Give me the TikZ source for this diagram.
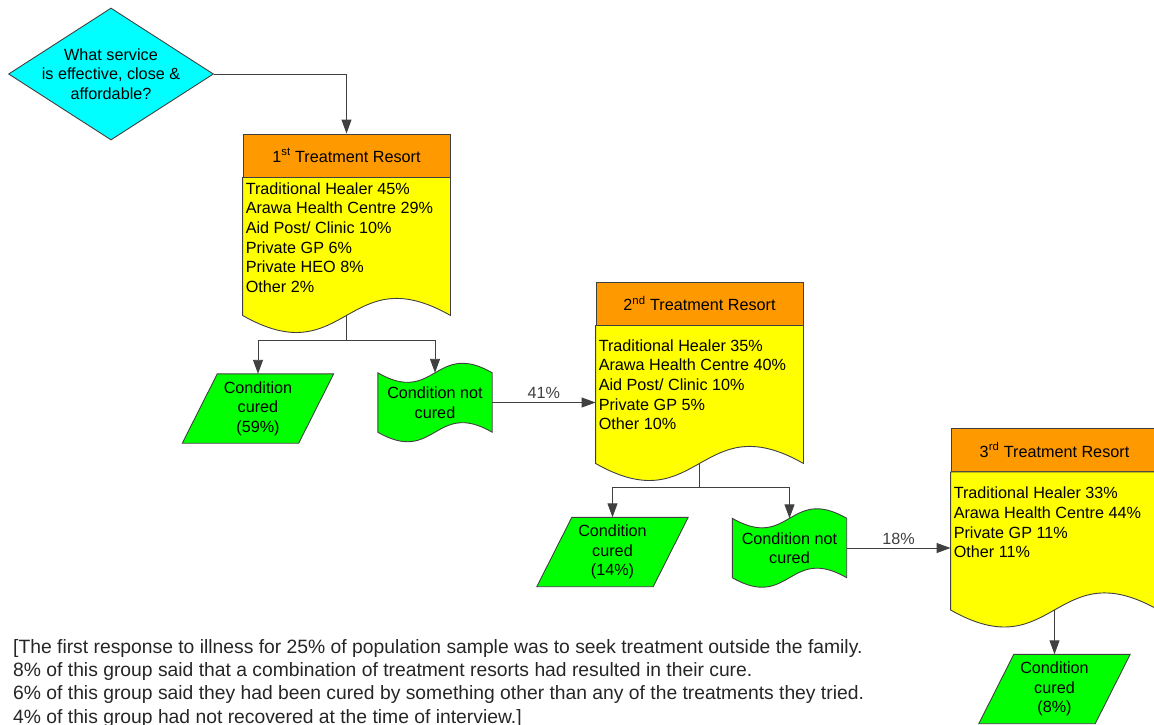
\documentclass[tikz,border=0pt]{standalone}
\usepackage{fontspec}
\setmainfont{Liberation Sans}
\usetikzlibrary{shapes.geometric,arrows.meta,calc,backgrounds}

\definecolor{askcyan}{HTML}{00FFFF}
\definecolor{headorange}{HTML}{FF9900}
\definecolor{bodyyellow}{HTML}{FFFF00}
\definecolor{curegreen}{HTML}{00FF00}
\definecolor{edge}{HTML}{404040}

\tikzset{
  outline/.style={draw=edge, line width=0.9pt},
  head/.style={outline, fill=headorange, minimum width=207pt, minimum height=43pt, inner sep=0pt},
  body/.style={outline, fill=bodyyellow},
  list/.style={anchor=north west, align=left, inner xsep=3pt, inner ysep=0pt},
  result/.style={align=center, inner sep=0pt, minimum width=116pt, minimum height=69pt},
  tapebox/.style={align=center, inner sep=0pt, minimum width=114pt, minimum height=59pt},
  link/.style={draw=edge, line width=0.9pt},
  flow/.style={link, -{Triangle[length=14pt,width=10pt]}},
  pct/.style={above, text=edge, inner sep=3pt}
}

\begin{document}
\begin{tikzpicture}[x=1pt,y=-1pt,font=\fontsize{16.2}{19.6}\selectfont]

\useasboundingbox (0,0) rectangle (1154,724);

\node[diamond, outline, fill=askcyan, minimum width=205pt, minimum height=132pt, inner sep=0pt] (q) at (111,74) {};
\node[align=center, inner sep=0pt] (qtext) at (q) {What service\\is effective, close \&\\affordable?};

\foreach \n/\cx/\cy/\ord in {1/346.5/155.5/st, 2/699.5/303.5/nd, 3/1054.5/450/rd}{
    \node[head] (h\n) at (\cx,\cy) {\n\textsuperscript{\ord} Treatment Resort};
    \draw[body] (h\n.south west) -- ++(0,138) .. controls +(103.5,59) and +(-103.5,-59) .. ($(h\n.south east)+(0,138)$) -- (h\n.south east) -- cycle;
    \coordinate (b\n) at ($(h\n.south)+(0,138)$);
}

\node[list] (l1) at ([yshift=-5pt]h1.south west) {Traditional Healer 45\%\\Arawa Health Centre 29\%\\Aid Post/ Clinic 10\%\\Private GP 6\%\\Private HEO 8\%\\Other 2\%};
\node[list] (l2) at ([yshift=-14pt]h2.south west) {Traditional Healer 35\%\\Arawa Health Centre 40\%\\Aid Post/ Clinic 10\%\\Private GP 5\%\\Other 10\%};
\node[list] (l3) at ([yshift=-15pt]h3.south west) {Traditional Healer 33\%\\Arawa Health Centre 44\%\\Private GP 11\%\\Other 11\%};

\node[result] (c1) at (258,408.5) {Condition\\cured\\(59\%)};
\node[result] (c2) at (612.5,552) {Condition\\cured\\(14\%)};
\node[result] (c3) at (1054.5,689) {Condition\\cured\\(8\%)};

\node[tapebox] (nc1) at (435,402.5) {Condition not\\cured};
\node[tapebox] (nc2) at (789.5,548) {Condition not\\cured};

\begin{scope}[on background layer]
\foreach \c in {c1,c2,c3}{
    \draw[outline, fill=curegreen] ([xshift=17.5pt]\c.north west) -- ([xshift=17.5pt]\c.north east) -- ([xshift=-17.5pt]\c.south east) -- ([xshift=-17.5pt]\c.south west) -- cycle;
}
\foreach \t in {nc1,nc2}{
    \draw[outline, fill=curegreen] (\t.north west) .. controls ($(\t.north)+(0,33)$) and ($(\t.north)+(0,-33)$) .. (\t.north east) -- (\t.south east) .. controls ($(\t.south)+(0,-33)$) and ($(\t.south)+(0,33)$) .. (\t.south west) -- cycle;
}
\end{scope}

\draw[flow] (q.east) -| (h1.north);

\draw[link] (b1) -- ++(0,25) coordinate (j1);
\draw[flow] (j1) -| (c1.north);
\draw[flow] (j1) -| (nc1.north);
\draw[flow] (nc1.east) -- node[pct] {41\%} (nc1.east -| h2.west);

\draw[link] (b2) -- ++(0,24) coordinate (j2);
\draw[flow] (j2) -| (c2.north);
\draw[flow] (j2) -| (nc2.north);
\draw[flow] (nc2.east) -- node[pct] {18\%} (nc2.east -| h3.west);

\draw[flow] (b3) -- (c3.north);

\node[anchor=north west, align=left, inner sep=0pt, text=black!85, font=\fontsize{19.3}{23.3}\selectfont] (note) at (13,639) {[The first response to illness for 25\% of population sample was to seek treatment outside the family.\\8\% of this group said that a combination of treatment resorts had resulted in their cure.\\6\% of this group said they had been cured by something other than any of the treatments they tried.\\4\% of this group had not recovered at the time of interview.]};

\end{tikzpicture}
\end{document}
